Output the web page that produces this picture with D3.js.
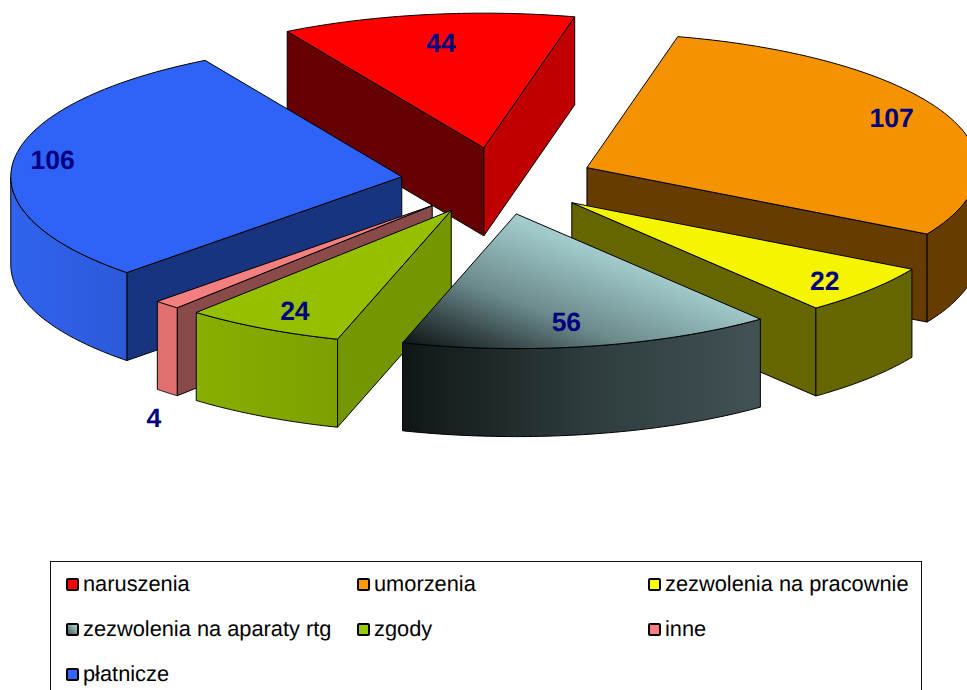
<!DOCTYPE html>
<html>
<head>
<meta charset="utf-8">
<script src="https://cdnjs.cloudflare.com/ajax/libs/d3/7.8.5/d3.min.js"></script>
<style>
  html, body { margin: 0; padding: 0; background: #fff; overflow: hidden; }
  text { font-family: "Liberation Sans", Arial, sans-serif; text-rendering: geometricPrecision; }
</style>
</head>
<body>
<div id="chart"></div>
<script>
var categories = ["naruszenia", "umorzenia", "zezwolenia na pracownie", "zezwolenia na aparaty rtg", "zgody", "inne", "płatnicze"];
var values = [44, 107, 22, 56, 24, 4, 106];

// colours, one per slice
var topColors   = ["#ff0000", "#f59200", "#f5f500", "url(#topTeal)", "#94c000", "#f47f7f", "#2f62f7"];
var rimColors   = ["#990000", "#663c00", "#666600", "url(#rimTeal)", "url(#rimGreen)", "#e07070", "url(#rimBlue)"];
var startColors = ["#660000", "#663c00", "#666600", "#3c4e50", "#749600", "#8a4a4a", "#19347f"];
var endColors   = ["#c00000", "#663c00", "#666600", "#3c4e50", "#749600", "#8a4a4a", "#19347f"];
var swatchColors = ["#ff0000", "#ff9900", "#ffff00", "url(#swTeal)", "#99cc00", "#ff8080", "#3366ff"];

// where the value label sits, as a fraction of the radius along the slice middle
var labelReach = [[0.75, 0.79], [0.85, 0.93], [0.85, 0.89], [0.68, 0.82], [0.83, 0.85], [1.05, 2.15], [0.90, 0.96]];

var width = 967, height = 690;
var cx = 498, cy = 181,
    rx = 391, ry = 134.7,
    explodeX = 97, explodeY = 33.5,
    depth = 88;

var svg = d3.select("#chart").append("svg")
    .attr("width", width)
    .attr("height", height)
    .style("display", "block");

var defs = svg.append("defs");

function gradient(id, x1, y1, x2, y2, stops) {
  var g = defs.append("linearGradient").attr("id", id)
      .attr("x1", x1).attr("y1", y1).attr("x2", x2).attr("y2", y2);
  stops.forEach(function(s) {
    g.append("stop").attr("offset", s[0]).attr("stop-color", s[1]);
  });
  return g;
}
gradient("topTeal", 401, 342, 466, 175, [[0, "#101616"], [0.21, "#3a4a4c"], [0.44, "#6b8a8b"], [0.85, "#a0c8c8"], [1, "#aed6d6"]])
    .attr("gradientUnits", "userSpaceOnUse");
gradient("rimTeal", 0, 0, 1, 0, [[0, "#101616"], [0.5, "#2d3b3c"], [1, "#425355"]]);
gradient("rimGreen", 0, 0, 1, 0, [[0, "#87b000"], [1, "#7da000"]]);
gradient("rimBlue", 0, 0, 1, 0, [[0, "#3063ee"], [1, "#2b59d8"]]);
gradient("swTeal", 0, 1, 1, 0, [[0, "#3c4e50"], [1, "#c0e4e4"]]);

var pie = d3.pie().sort(null)
    .startAngle(-30.2 * Math.PI / 180)
    .endAngle((360 - 30.2) * Math.PI / 180);

var slices = pie(values).map(function(d, i) {
  var mid = (d.startAngle + d.endAngle) / 2;
  return {
    i: i,
    a0: d.startAngle,
    a1: d.endAngle,
    mid: mid,
    ax: cx + explodeX * Math.sin(mid),
    ay: cy - explodeY * Math.cos(mid)
  };
});

// back slices first so the front ones paint over them
slices.sort(function(a, b) { return a.ay - b.ay; });

var line = d3.line();

function onEllipse(s, a) {
  return [s.ax + rx * Math.sin(a), s.ay - ry * Math.cos(a)];
}

function arcPoints(s, a0, a1) {
  return d3.range(0, 61).map(function(k) {
    return onEllipse(s, a0 + (a1 - a0) * k / 60);
  });
}

function drop(p) { return [p[0], p[1] + depth]; }

var pieG = svg.append("g").attr("stroke", "#000").attr("stroke-width", 1).attr("stroke-linejoin", "round");

slices.forEach(function(s) {
  var g = pieG.append("g");
  var apex = [s.ax, s.ay];

  // cut face on the start side
  if (Math.sin(s.a0) < 0) {
    var p0 = onEllipse(s, s.a0);
    g.append("path")
      .attr("d", line([apex, p0, drop(p0), drop(apex)]) + "Z")
      .attr("fill", startColors[s.i]);
  }
  // cut face on the end side
  if (Math.sin(s.a1) > 0) {
    var p1 = onEllipse(s, s.a1);
    g.append("path")
      .attr("d", line([apex, p1, drop(p1), drop(apex)]) + "Z")
      .attr("fill", endColors[s.i]);
  }
  // outer rim, only the part that faces the viewer
  var r0 = Math.max(s.a0, Math.PI / 2), r1 = Math.min(s.a1, 3 * Math.PI / 2);
  if (r1 > r0) {
    var upper = arcPoints(s, r0, r1);
    var lower = upper.map(drop).reverse();
    g.append("path")
      .attr("d", line(upper.concat(lower)) + "Z")
      .attr("fill", rimColors[s.i]);
  }
  // top face
  g.append("path")
    .attr("d", line([apex].concat(arcPoints(s, s.a0, s.a1))) + "Z")
    .attr("fill", topColors[s.i]);
});

// value labels
svg.append("g").selectAll("text")
    .data(slices)
    .enter().append("text")
    .attr("x", function(d) { return d.ax + rx * labelReach[d.i][0] * Math.sin(d.mid); })
    .attr("y", function(d) { return d.ay - ry * labelReach[d.i][1] * Math.cos(d.mid); })
    .attr("text-anchor", "middle")
    .attr("dominant-baseline", "central")
    .attr("font-size", 26.5)
    .attr("font-weight", "bold")
    .attr("fill", "#000080")
    .text(function(d) { return values[d.i]; });

// legend, three columns and three rows, runs off the bottom of the page
var legendX = d3.scalePoint().domain([0, 1, 2]).range([66, 648]);
var legendY = d3.scalePoint().domain([0, 1, 2]).range([584, 674]);

var legend = svg.append("g");
legend.append("rect")
    .attr("x", 50.5).attr("y", 561.5)
    .attr("width", 871).attr("height", 140)
    .attr("fill", "#fff")
    .attr("stroke", "#111");

var item = legend.selectAll(".item")
    .data(categories)
    .enter().append("g")
    .attr("class", "item")
    .attr("transform", function(d, i) {
      return "translate(" + legendX(i % 3) + "," + legendY(Math.floor(i / 3)) + ")";
    });

item.append("rect")
    .attr("x", 1).attr("y", -5)
    .attr("width", 11).attr("height", 11)
    .attr("rx", 1)
    .attr("fill", function(d, i) { return swatchColors[i]; })
    .attr("stroke", "#000")
    .attr("stroke-width", 2);

item.append("text")
    .attr("x", 17)
    .attr("y", 7)
    .attr("font-size", 21.8)
    .attr("fill", "#000")
    .text(function(d) { return d; });
</script>
</body>
</html>
